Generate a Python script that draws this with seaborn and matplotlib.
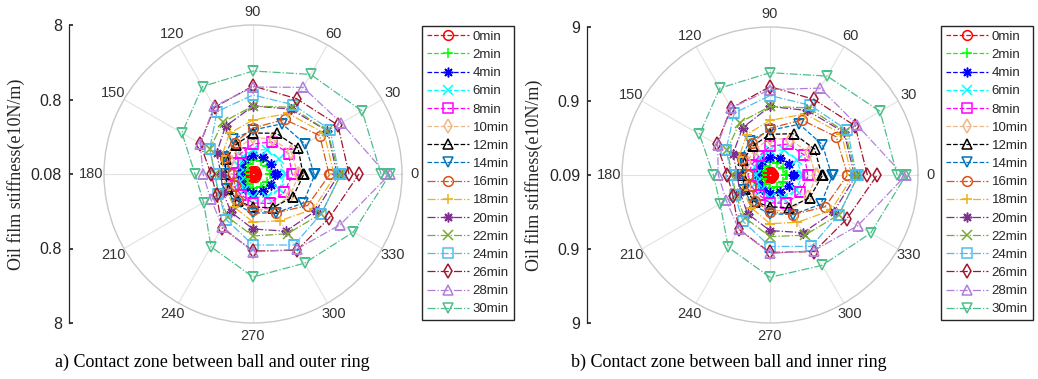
import numpy as np
import pandas as pd
import matplotlib
matplotlib.use('Agg')
import matplotlib.pyplot as plt
import seaborn as sns

sns.set_theme(style='white')
plt.rcParams['font.family'] = ['Liberation Sans', 'DejaVu Sans']

# angle of each measurement point (deg), first and last both on the 0 axis
angles_deg = [0, 30, 60, 90, 120, 150, 180, 210, 240, 270, 300, 330, 360]
grid_deg = [0, 30, 60, 90, 120, 150, 180, 210, 240, 270, 300, 330]

labels = ['0min', '2min', '4min', '6min', '8min', '10min', '12min', '14min',
          '16min', '18min', '20min', '22min', '24min', '26min', '28min', '30min']
colors = ['#FF0000', '#00FF00', '#0000FF', '#00FFFF', '#FF00FF', '#EDB88A',
          '#000000', '#0072BD', '#D95319', '#EDB120', '#7E2F8E', '#77AC30',
          '#4DBEEE', '#A2142F', '#B07FDB', '#4DBF8A']
asterisk = (8, 2, 0)
markers = ['o', '+', asterisk, 'x', 's', 'd', '^', 'v',
           'o', '+', asterisk, 'x', 's', 'd', '^', 'v']
styles = ['--'] * 8 + ['-.'] * 8

# radial position (outer circle = 149)
outer_00 = [3, 2, 3, 2, 3, 2, 3, 2, 3, 2, 3, 2, 3]
outer_02 = [17, 16, 15, 14, 11, 9, 8, 9, 11, 14, 15, 16, 18]
outer_04 = [22, 21, 20, 19, 17, 14, 13, 14, 17, 19, 20, 21, 24]
outer_06 = [32, 30, 28, 24, 20, 16, 14, 15, 18, 23, 27, 30, 33]
outer_08 = [39, 41, 37, 30, 24, 23, 24, 23, 24, 29, 34, 36, 40]
outer_10 = [45, 44, 40, 37, 30, 27, 27, 28, 30, 36, 40, 43, 46]
outer_12 = [50, 52, 47, 41, 34, 31, 28, 29, 31, 33, 39, 46, 51]
outer_14 = [61, 60, 58, 44, 40, 34, 28, 30, 35, 39, 45, 58, 62]
outer_16 = [76, 77, 63, 46, 36, 32, 21, 21, 30, 36, 45, 63, 77]
outer_18 = [81, 82, 70, 54, 47, 36, 30, 31, 38, 48, 54, 70, 83]
outer_20 = [84, 86, 75, 68, 55, 42, 32, 35, 44, 55, 66, 73, 86]
outer_22 = [86, 86, 77, 68, 60, 50, 38, 40, 50, 62, 69, 79, 88]
outer_24 = [86, 89, 80, 79, 72, 50, 38, 40, 53, 71, 82, 79, 88]
outer_26 = [96, 98, 87, 88, 77, 61, 42, 42, 62, 77, 88, 88, 106]
outer_28 = [133, 102, 100, 87, 78, 61, 50, 49, 61, 78, 87, 101, 137]
outer_30 = [128, 126, 115, 103, 101, 82, 58, 57, 84, 103, 103, 116, 137]

inner_00 = [3, 2, 3, 2, 3, 2, 3, 2, 3, 2, 3, 2, 3]
inner_02 = [16, 15, 14, 13, 11, 9, 8, 9, 11, 13, 14, 15, 17]
inner_04 = [23, 22, 20, 18, 16, 14, 13, 14, 16, 18, 20, 22, 24]
inner_06 = [32, 31, 29, 25, 20, 17, 14, 15, 18, 23, 27, 30, 33]
inner_08 = [38, 40, 36, 29, 22, 21, 22, 22, 23, 28, 33, 35, 39]
inner_10 = [46, 45, 41, 37, 30, 27, 26, 27, 30, 36, 41, 44, 47]
inner_12 = [52, 52, 48, 41, 34, 31, 28, 29, 31, 32, 38, 46, 53]
inner_14 = [62, 61, 59, 45, 40, 34, 28, 30, 35, 39, 46, 59, 63]
inner_16 = [78, 77, 64, 47, 37, 32, 22, 22, 30, 37, 46, 64, 78]
inner_18 = [82, 83, 71, 55, 47, 36, 30, 31, 38, 49, 55, 71, 84]
inner_20 = [85, 86, 75, 69, 55, 43, 33, 35, 45, 56, 67, 74, 87]
inner_22 = [87, 87, 78, 69, 61, 50, 38, 40, 50, 62, 70, 80, 89]
inner_24 = [87, 90, 81, 80, 72, 51, 39, 41, 54, 72, 83, 80, 89]
inner_26 = [98, 99, 88, 89, 78, 62, 43, 43, 63, 78, 89, 89, 108]
inner_28 = [134, 101, 101, 86, 78, 61, 52, 51, 63, 79, 88, 102, 137]
inner_30 = [128, 128, 115, 103, 101, 82, 57, 58, 84, 103, 105, 117, 137]

outer_series = [outer_00, outer_02, outer_04, outer_06, outer_08, outer_10,
                outer_12, outer_14, outer_16, outer_18, outer_20, outer_22,
                outer_24, outer_26, outer_28, outer_30]
inner_series = [inner_00, inner_02, inner_04, inner_06, inner_08, inner_10,
                inner_12, inner_14, inner_16, inner_18, inner_20, inner_22,
                inner_24, inner_26, inner_28, inner_30]

outer_ticks = ['8', '0.8', '0.08', '0.8', '8']
inner_ticks = ['9', '0.9', '0.09', '0.9', '9']

W, H = 1038, 379
fig = plt.figure(figsize=(W / 100, H / 100), dpi=100)
fig.patch.set_facecolor('white')

theta = np.deg2rad(angles_deg)


def panel(cx, cy, R, series, ticks, axis_x, legend_x, caption, cap_x):
    ax = fig.add_axes([(cx - R) / W, (H - cy - R) / H, 2 * R / W, 2 * R / H],
                      projection='polar')
    for vals, lab, c, m, ls in zip(series, labels, colors, markers, styles):
        df = pd.DataFrame({'theta': theta, 'r': vals})
        sns.lineplot(data=df, x='theta', y='r', sort=False, estimator=None,
                     ax=ax, color=c, marker=m, linestyle=ls, linewidth=0.9,
                     markersize=7, markerfacecolor='none', markeredgecolor=c,
                     markeredgewidth=1.1, label=lab, legend=False)
    if ax.get_legend() is not None:
        ax.get_legend().remove()
    ax.set_xlabel('')
    ax.set_ylabel('')
    ax.set_ylim(0, 149)
    ax.set_yticks([])
    ax.set_xticks(np.deg2rad(grid_deg))
    ax.set_xticklabels([str(a) for a in grid_deg], fontsize=10.5, color='#333333')
    ax.tick_params(axis='x', pad=-4)
    ax.xaxis.grid(True, color='#e2e2e2', linewidth=0.8)
    ax.spines['polar'].set_color('#c8c8c8')
    ax.spines['polar'].set_linewidth(1.0)
    ax.set_facecolor('white')

    # separate vertical stiffness axis on the left
    ay = fig.add_axes([axis_x / W, (H - cy - R) / H, 0.0005, 2 * R / H])
    ay.set_ylim(0, 4)
    ay.set_yticks([0, 1, 2, 3, 4])
    ay.set_yticklabels(ticks[::-1], fontsize=11.5, color='#262626')
    ay.set_xticks([])
    for s in ['top', 'right', 'bottom']:
        ay.spines[s].set_visible(False)
    ay.spines['left'].set_color('#262626')
    ay.spines['left'].set_linewidth(0.9)
    ay.tick_params(axis='y', direction='in', length=3, pad=5, left=True)
    ay.set_ylabel('Oil film stiffness(e10N/m)', family=['Liberation Serif'],
                  fontsize=13, color='#262626', labelpad=4)
    ay.patch.set_alpha(0)

    handles, labs = ax.get_legend_handles_labels()
    fig.legend(handles, labs, loc='upper left',
               bbox_to_anchor=(legend_x / W, 1 - 26 / H),
               frameon=True, fancybox=False, edgecolor='#262626',
               framealpha=1, fontsize=9.5, handlelength=3.2,
               labelspacing=0.45, borderpad=0.35, handletextpad=0.3,
               borderaxespad=0)

    fig.text(cap_x / W, 1 - 362 / H, caption, family=['Liberation Serif'],
             fontsize=13, ha='center', va='center', color='black')


panel(253, 174, 149, outer_series, outer_ticks, 69, 422,
      'a) Contact zone between ball and outer ring', 212)
panel(770, 175, 148, inner_series, inner_ticks, 587, 941,
      'b) Contact zone between ball and inner ring', 729)

fig.savefig('out.png', dpi=100)
